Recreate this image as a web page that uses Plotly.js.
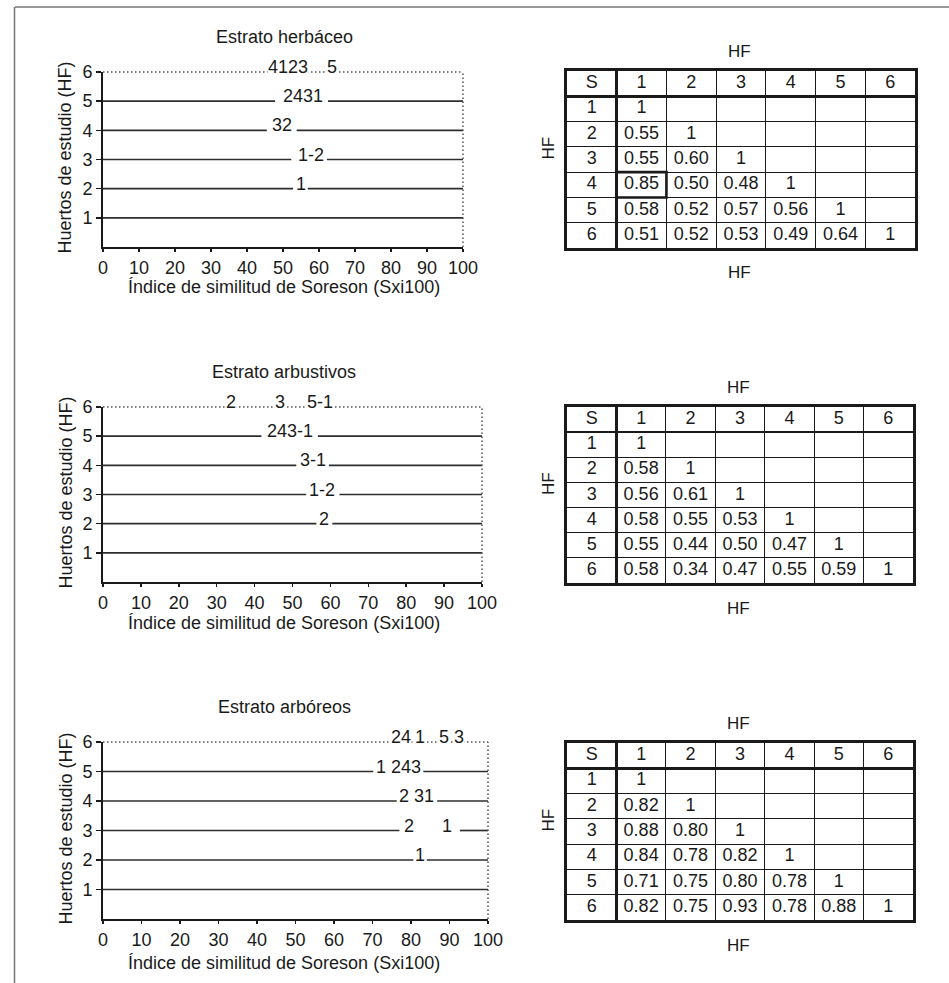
<!DOCTYPE html>
<html>
<head>
<meta charset="utf-8">
<script src="https://cdn.plot.ly/plotly-3.0.1.min.js"></script>
<style>
html,body{margin:0;padding:0;background:#fff;}
#chart{width:949px;height:983px;}
</style>
</head>
<body>
<div id="chart"></div>
<script>
// ================= DATA =================
const panelTitles = ['Estrato herbáceo', 'Estrato arbustivos', 'Estrato arbóreos'];
const xTitleText = 'Índice de similitud de Soreson (Sxi100)';
const yTitleText = 'Huertos de estudio (HF)';
const hfLevels = [1, 2, 3, 4, 5, 6];
const xTickVals = [0, 10, 20, 30, 40, 50, 60, 70, 80, 90, 100];

// Estrato herbáceo: group labels (HF level, text, similitud position)
const herbLabelRows = [2, 3, 4, 5, 6, 6];
const herbLabelText = ['1', '1-2', '32', '2431', '4123', '5'];
const herbLabelX    = [55.1, 57.7, 49.7, 55.6, 51.4, 63.6];
// gaps left in the solid lines around the labels
const herbGapRows = [2, 3, 4, 5];
const herbGapLo   = [52.8, 52.3, 45.5, 47.8];
const herbGapHi   = [56.9, 62.2, 53.8, 62.5];

// Estrato arbustivos
const arbuLabelRows = [2, 3, 4, 5, 6, 6, 6];
const arbuLabelText = ['2', '1-2', '3-1', '243-1', '2', '3', '5-1'];
const arbuLabelX    = [58.3, 57.8, 55.4, 49.3, 33.9, 46.6, 57.2];
const arbuGapRows = [2, 3, 4, 5];
const arbuGapLo   = [56.3, 53.6, 51.0, 41.8];
const arbuGapHi   = [60.5, 62.4, 59.6, 56.7];

// Estrato arbóreos
const arboLabelRows = [2, 3, 3, 4, 5, 6, 6, 6, 6];
const arboLabelText = ['1', '2', '1', '2 31', '1 243', '24', '1', '5', '3'];
const arboLabelX    = [82.4, 79.6, 89.3, 81.5, 76.7, 77.4, 82.3, 88.6, 92.5];
const arboGapRows = [2, 3, 4, 5];
const arboGapLo   = [80.6, 77.0, 76.3, 70.2];
const arboGapHi   = [84.1, 92.7, 86.8, 83.2];

// Similarity tables (lower triangle, rows HF 1..6)
const tableHeader = ['S', '1', '2', '3', '4', '5', '6'];
const tableRowLabels = ['1', '2', '3', '4', '5', '6'];
const herbSim = [
  [1],
  [0.55, 1],
  [0.55, 0.60, 1],
  [0.85, 0.50, 0.48, 1],
  [0.58, 0.52, 0.57, 0.56, 1],
  [0.51, 0.52, 0.53, 0.49, 0.64, 1]
];
const arbuSim = [
  [1],
  [0.58, 1],
  [0.56, 0.61, 1],
  [0.58, 0.55, 0.53, 1],
  [0.55, 0.44, 0.50, 0.47, 1],
  [0.58, 0.34, 0.47, 0.55, 0.59, 1]
];
const arboSim = [
  [1],
  [0.82, 1],
  [0.88, 0.80, 1],
  [0.84, 0.78, 0.82, 1],
  [0.71, 0.75, 0.80, 0.78, 1],
  [0.82, 0.75, 0.93, 0.78, 0.88, 1]
];
const herbHighlight = [4, 1]; // boxed cell (HF row, HF column)
const tableAxisLabel = 'HF';

// ================= LAYOUT / DRAWING =================
const W = 949, H = 983;
const fx = p => p / W;
const fy = p => 1 - p / H;
const FONT = 'Liberation Sans, Arial, Helvetica, sans-serif';
const INK = '#1a1a1a';
const LINE = '#2e2e2e';
const FS = 18;
const xRange = [0, 100];
const yRange = [0, 6];
const topLevel = hfLevels[hfLevels.length - 1];

const panels = [
  {title: panelTitles[0], rows: herbLabelRows, texts: herbLabelText, xs: herbLabelX,
   gapRows: herbGapRows, gapLo: herbGapLo, gapHi: herbGapHi,
   box: {l: 103, r: 463, t: 72, b: 247}, xtOff: 40},
  {title: panelTitles[1], rows: arbuLabelRows, texts: arbuLabelText, xs: arbuLabelX,
   gapRows: arbuGapRows, gapLo: arbuGapLo, gapHi: arbuGapHi,
   box: {l: 103, r: 482, t: 407, b: 582}, xtOff: 41},
  {title: panelTitles[2], rows: arboLabelRows, texts: arboLabelText, xs: arboLabelX,
   gapRows: arboGapRows, gapLo: arboGapLo, gapHi: arboGapHi,
   box: {l: 103, r: 488, t: 742, b: 919}, xtOff: 44}
];

const tables = [
  {sim: herbSim, box: {l: 567, r: 915, t: 71, b: 248}, highlight: herbHighlight},
  {sim: arbuSim, box: {l: 567, r: 913, t: 407, b: 583}, highlight: null},
  {sim: arboSim, box: {l: 567, r: 913, t: 743, b: 920}, highlight: null}
];

const data = [];
const annotations = [];
const shapes = [];
const layout = {
  width: W, height: H,
  margin: {l: 0, r: 0, t: 0, b: 0, pad: 0},
  paper_bgcolor: '#ffffff',
  plot_bgcolor: 'rgba(0,0,0,0)',
  showlegend: false,
  font: {family: FONT, size: FS, color: INK},
  annotations: annotations,
  shapes: shapes
};

const textFont = (size) => ({family: FONT, size: size || FS, color: INK});

// ---- line panels ----
panels.forEach((p, i) => {
  const n = i + 1;
  const sx = n === 1 ? '' : String(n);
  const xa = 'x' + sx, ya = 'y' + sx;
  const b = p.box;

  layout['xaxis' + sx] = {
    domain: [fx(b.l), fx(b.r)], range: xRange, anchor: ya,
    tickmode: 'array', tickvals: xTickVals,
    ticks: 'outside', ticklen: 3, tickwidth: 1.5, tickcolor: INK,
    showline: true, linewidth: 2, linecolor: INK,
    showgrid: false, zeroline: false, fixedrange: true,
    tickfont: textFont()
  };
  layout['yaxis' + sx] = {
    domain: [fy(b.b), fy(b.t)], range: yRange, anchor: xa,
    tickmode: 'array', tickvals: hfLevels,
    ticks: 'outside', ticklen: 5, tickwidth: 1.5, tickcolor: INK,
    showline: true, linewidth: 2, linecolor: INK,
    showgrid: false, zeroline: false, fixedrange: true,
    tickfont: textFont()
  };

  // solid HF lines with gaps for labels
  hfLevels.filter(l => l < topLevel).forEach(level => {
    const gi = p.gapRows.indexOf(level);
    const xs = gi < 0 ? [xRange[0], xRange[1]]
                      : [xRange[0], p.gapLo[gi], null, p.gapHi[gi], xRange[1]];
    const ys = xs.map(v => (v === null ? null : level));
    data.push({
      type: 'scatter', mode: 'lines', x: xs, y: ys, xaxis: xa, yaxis: ya,
      line: {color: LINE, width: 1.7}, hoverinfo: 'skip', connectgaps: false
    });
  });

  // dotted top (HF 6) and right frame
  const dotted = {color: '#555', width: 1.5, dash: '1.5px,2.5px'};
  shapes.push({type: 'line', xref: xa + ' domain', yref: ya + ' domain',
               x0: 0, x1: 1, y0: 1, y1: 1, line: dotted});
  shapes.push({type: 'line', xref: xa + ' domain', yref: ya + ' domain',
               x0: 1, x1: 1, y0: 0, y1: 1, line: dotted});

  // group labels
  p.texts.forEach((t, k) => {
    annotations.push({
      xref: xa, yref: ya, x: p.xs[k], y: p.rows[k], text: t,
      showarrow: false, xanchor: 'center', yanchor: 'middle', yshift: 5,
      font: textFont(),
      bgcolor: p.rows[k] === topLevel ? '#ffffff' : 'rgba(0,0,0,0)',
      borderpad: 0
    });
  });

  // titles
  annotations.push({xref: 'paper', yref: 'paper', x: fx(284), y: fy(b.t - 35),
    text: p.title, showarrow: false, xanchor: 'center', yanchor: 'middle', font: textFont()});
  annotations.push({xref: 'paper', yref: 'paper', x: fx(284), y: fy(b.b + p.xtOff),
    text: xTitleText, showarrow: false, xanchor: 'center', yanchor: 'middle', font: textFont()});
  annotations.push({xref: 'paper', yref: 'paper', x: fx(65), y: fy((b.t + b.b) / 2 - 2),
    text: yTitleText, showarrow: false, xanchor: 'center', yanchor: 'middle',
    textangle: -90, font: textFont()});
});

// ---- tables ----
const fmt = v => (v === 1 ? '1' : v.toFixed(2));
tables.forEach((tb, i) => {
  const n = i + 4;
  const xa = 'x' + n, ya = 'y' + n;
  const b = tb.box;
  const nCols = tableHeader.length;      // 7 columns: S + 6
  const nRows = tableRowLabels.length;   // 6 data rows + header
  const common = {
    showticklabels: false, ticks: '', dtick: 1, tick0: 0,
    showgrid: true, gridcolor: INK, gridwidth: 1.2,
    zeroline: true, zerolinecolor: INK, zerolinewidth: 2.6,
    showline: true, mirror: true, linecolor: INK, linewidth: 2.6,
    fixedrange: true
  };
  layout['xaxis' + n] = Object.assign({}, common, {
    domain: [fx(b.l), fx(b.r)], range: [-1, nCols - 1], anchor: ya
  });
  layout['yaxis' + n] = Object.assign({}, common, {
    domain: [fy(b.b), fy(b.t)], range: [-nRows, 1], anchor: xa
  });

  const tx = [], ty = [], tt = [];
  tableHeader.forEach((h, c) => { tx.push(c - 0.5); ty.push(0.5); tt.push(h); });
  tableRowLabels.forEach((r, ri) => { tx.push(-0.5); ty.push(-0.5 - ri); tt.push(r); });
  tb.sim.forEach((row, ri) => {
    row.forEach((v, ci) => { tx.push(ci + 0.5); ty.push(-0.5 - ri); tt.push(fmt(v)); });
  });
  data.push({
    type: 'scatter', mode: 'text', x: tx, y: ty, text: tt, xaxis: xa, yaxis: ya,
    textposition: 'middle center', textfont: textFont(), cliponaxis: false, hoverinfo: 'skip'
  });

  if (tb.highlight) {
    const hr = tb.highlight[0], hc = tb.highlight[1];
    shapes.push({type: 'rect', xref: xa, yref: ya,
      x0: hc - 1, x1: hc, y0: -hr, y1: -hr + 1,
      line: {color: INK, width: 2.6}, fillcolor: 'rgba(0,0,0,0)'});
  }

  const cx = (b.l + b.r) / 2 - 2;
  annotations.push({xref: 'paper', yref: 'paper', x: fx(cx), y: fy(b.t - 20),
    text: tableAxisLabel, showarrow: false, xanchor: 'center', yanchor: 'middle', font: textFont(17)});
  annotations.push({xref: 'paper', yref: 'paper', x: fx(cx), y: fy(b.b + 25),
    text: tableAxisLabel, showarrow: false, xanchor: 'center', yanchor: 'middle', font: textFont(17)});
  annotations.push({xref: 'paper', yref: 'paper', x: fx(548), y: fy((b.t + b.b) / 2 - 11),
    text: tableAxisLabel, showarrow: false, xanchor: 'center', yanchor: 'middle',
    textangle: -90, font: textFont(17)});
});

// partial outer frame (top and left edges)
shapes.push({type: 'line', xref: 'paper', yref: 'paper', x0: fx(15), x1: 1, y0: fy(7), y1: fy(7),
             line: {color: '#777', width: 1.5}});
shapes.push({type: 'line', xref: 'paper', yref: 'paper', x0: fx(14.5), x1: fx(14.5), y0: fy(7), y1: 0,
             line: {color: '#777', width: 1.5}});

Plotly.newPlot('chart', data, layout, {staticPlot: true, displayModeBar: false});
</script>
</body>
</html>
